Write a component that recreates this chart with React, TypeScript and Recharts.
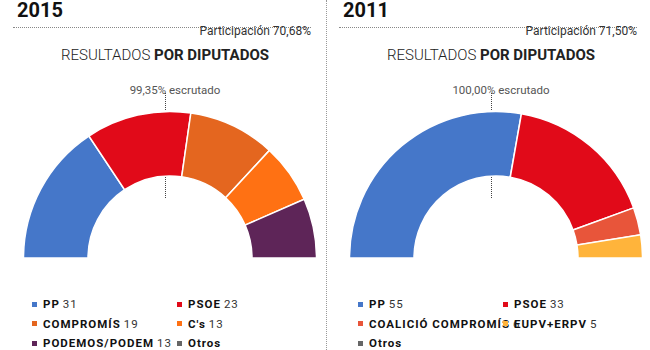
import React from 'react'
import { Cell, Pie, PieChart } from 'recharts'

const YEARS = ['2015', '2011']
const PARTICIPATION = ['Participación 70,68%', 'Participación 71,50%']
const SCRUTINY = ['99,35% escrutado', '100,00% escrutado']

const PARTIES_2015 = ['PP', 'PSOE', 'COMPROMÍS', "C's", 'PODEMOS/PODEM', 'Otros']
const SEATS_2015 = [31, 23, 19, 13, 13, null]
const COLORS_2015 = ['#4577c9', '#e10a19', '#e4661f', '#ff7113', '#5e2558', '#666666']

const PARTIES_2011 = ['PP', 'PSOE', 'COALICIÓ COMPROMÍS', 'EUPV+ERPV', 'Otros']
const SEATS_2011 = [55, 33, 6, 5, null]
const COLORS_2011 = ['#4577c9', '#e10a19', '#e8553a', '#ffb43b', '#666666']

const FONT = 'Roboto, "Noto Sans", sans-serif'
const PANEL_W = 325

type PanelProps = {
  left: number
  year: string
  participation: string
  scrutiny: string
  parties: string[]
  seats: Array<number | null>
  colors: string[]
}

const Panel = ({ left, year, participation, scrutiny, parties, seats, colors }: PanelProps) => {
  const data = parties
    .map((name, i) => ({ name, value: seats[i], color: colors[i] }))
    .filter((d) => d.value != null)

  return (
    <div style={{ position: 'absolute', left, top: 0, width: PANEL_W, height: 350, fontFamily: FONT }}>
      <div
        style={{ position: 'absolute', left: 17, top: 0, fontSize: 20, lineHeight: '20px', fontWeight: 700, color: '#111' }}
      >
        {year}
      </div>
      <div style={{ position: 'absolute', left: 13, width: 298, top: 27, borderTop: '1px dotted #888' }} />
      <div style={{ position: 'absolute', right: 14, top: 24, fontSize: 12, lineHeight: '14px', color: '#333' }}>
        {participation}
      </div>
      <div
        style={{ position: 'absolute', left: 0, width: 330, top: 46, textAlign: 'center', fontSize: 15, color: '#222' }}
      >
        <span style={{ fontWeight: 300 }}>RESULTADOS </span>
        <span style={{ fontWeight: 700 }}>POR DIPUTADOS</span>
      </div>
      <div
        style={{
          position: 'absolute',
          left: 0,
          width: 350,
          top: 83,
          textAlign: 'center',
          fontSize: 11.5,
          color: '#555',
        }}
      >
        {scrutiny}
      </div>
      {/* dotted guide from the label down to the centre */}
      <div style={{ position: 'absolute', left: 165, top: 93, height: 105, borderLeft: '1px dotted #444' }} />

      <div style={{ position: 'absolute', left: 0, top: 0 }}>
        <PieChart width={PANEL_W} height={350} margin={{ top: 0, right: 0, bottom: 0, left: 0 }}>
          <Pie
            data={data}
            dataKey='value'
            nameKey='name'
            cx={170}
            cy={258}
            startAngle={180}
            endAngle={0}
            innerRadius={82}
            outerRadius={146.5}
            stroke='#ffffff'
            strokeWidth={1.5}
            isAnimationActive={false}
          >
            {data.map((d) => (
              <Cell key={d.name} fill={d.color} />
            ))}
          </Pie>
        </PieChart>
      </div>

      {/* LEGEND */}
      {parties.map((name, i) => {
        const col = i % 2
        const row = Math.floor(i / 2)
        return (
          <div
            key={name}
            style={{
              position: 'absolute',
              left: col === 0 ? 32 : 177,
              top: 297 + row * 19.5,
              fontSize: 11.5,
              lineHeight: '14px',
              letterSpacing: 1,
              whiteSpace: 'nowrap',
              color: '#222',
              display: 'flex',
              alignItems: 'center',
            }}
          >
            <span style={{ width: 5, height: 5, background: colors[i], marginRight: 6, display: 'inline-block' }} />
            <span style={{ fontWeight: 700, color: '#111' }}>{name}</span>
            {seats[i] != null && <span style={{ marginLeft: 3, color: '#333' }}>{seats[i]}</span>}
          </div>
        )
      })}
    </div>
  )
}

const App = () => {
  return (
    <div style={{ position: 'absolute', left: 0, top: 0, width: 650, height: 350, background: '#fff' }}>
      <Panel
        left={0}
        year={YEARS[0]}
        participation={PARTICIPATION[0]}
        scrutiny={SCRUTINY[0]}
        parties={PARTIES_2015}
        seats={SEATS_2015}
        colors={COLORS_2015}
      />
      <div style={{ position: 'absolute', left: 326, top: 0, height: 350, borderLeft: '1px dotted #999' }} />
      <Panel
        left={326}
        year={YEARS[1]}
        participation={PARTICIPATION[1]}
        scrutiny={SCRUTINY[1]}
        parties={PARTIES_2011}
        seats={SEATS_2011}
        colors={COLORS_2011}
      />
    </div>
  )
}

export default App
